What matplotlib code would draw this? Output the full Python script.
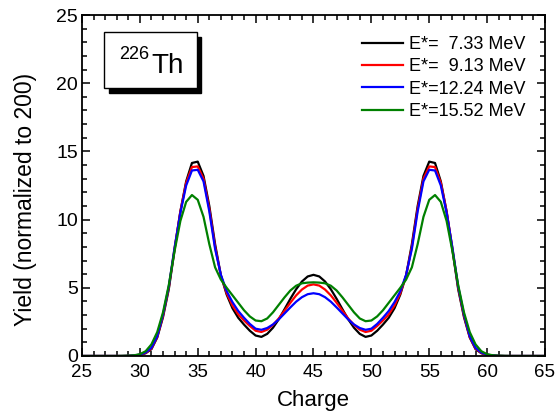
import numpy as np
import matplotlib
matplotlib.use("Agg")
import matplotlib.pyplot as plt
from matplotlib.patches import Rectangle

plt.rcParams['font.family'] = ['Liberation Sans', 'DejaVu Sans']

charge = np.arange(25.0, 65.01, 0.5)

y_733 = [0, 0, 0, 0, 0, 0, 0, 0, 0.01, 0.03,
         0.08, 0.2, 0.5, 1.35, 2.85, 4.9, 7.8, 10.6, 12.8, 14.15,
         14.25, 13.2, 11.0, 8.2, 5.9, 4.5, 3.5, 2.8, 2.3, 1.85,
         1.5, 1.4, 1.62, 2.07, 2.69, 3.43, 4.19, 4.89, 5.46, 5.83,
         5.95, 5.83, 5.46, 4.89, 4.19, 3.43, 2.69, 2.07, 1.62, 1.4,
         1.5, 1.85, 2.3, 2.8, 3.5, 4.5, 5.9, 8.2, 11.0, 13.2,
         14.25, 14.15, 12.8, 10.6, 7.8, 4.9, 2.85, 1.35, 0.5, 0.2,
         0.08, 0.03, 0.01, 0, 0, 0, 0, 0, 0, 0, 0]

y_913 = [0, 0, 0, 0, 0, 0, 0, 0, 0.01, 0.04,
         0.09, 0.22, 0.55, 1.4, 2.95, 5.0, 7.9, 10.6, 12.7, 13.85,
         13.9, 13.0, 10.8, 8.0, 5.9, 4.6, 3.7, 3.05, 2.6, 2.2,
         1.85, 1.76, 1.93, 2.28, 2.75, 3.32, 3.9, 4.44, 4.87, 5.16,
         5.25, 5.16, 4.87, 4.44, 3.9, 3.32, 2.75, 2.28, 1.93, 1.76,
         1.85, 2.2, 2.6, 3.05, 3.7, 4.6, 5.9, 8.0, 10.8, 13.0,
         13.9, 13.85, 12.7, 10.6, 7.9, 5.0, 2.95, 1.4, 0.55, 0.22,
         0.09, 0.04, 0.01, 0, 0, 0, 0, 0, 0, 0, 0]

y_1224 = [0, 0, 0, 0, 0, 0, 0, 0, 0.01, 0.04,
          0.1, 0.25, 0.6, 1.45, 3.05, 5.1, 7.95, 10.5, 12.5, 13.6,
          13.65, 12.8, 10.6, 7.85, 5.95, 4.75, 3.95, 3.3, 2.8, 2.35,
          2.0, 1.92, 2.05, 2.31, 2.68, 3.12, 3.56, 3.98, 4.31, 4.53,
          4.6, 4.53, 4.31, 3.98, 3.56, 3.12, 2.68, 2.31, 2.05, 1.92,
          2.0, 2.35, 2.8, 3.3, 3.95, 4.75, 5.95, 7.85, 10.6, 12.8,
          13.65, 13.6, 12.5, 10.5, 7.95, 5.1, 3.05, 1.45, 0.6, 0.25,
          0.1, 0.04, 0.01, 0, 0, 0, 0, 0, 0, 0, 0]

y_1552 = [0, 0, 0, 0, 0, 0, 0, 0.01, 0.02, 0.05,
          0.13, 0.35, 0.85, 1.75, 3.2, 5.2, 7.7, 9.9, 11.3, 11.8,
          11.45, 10.2, 8.2, 6.5, 5.6, 5.0, 4.45, 3.9, 3.35, 2.9,
          2.6, 2.55, 2.75, 3.2, 3.75, 4.3, 4.8, 5.15, 5.33, 5.38,
          5.4, 5.38, 5.33, 5.15, 4.8, 4.3, 3.75, 3.2, 2.75, 2.55,
          2.6, 2.9, 3.35, 3.9, 4.45, 5.0, 5.6, 6.5, 8.2, 10.2,
          11.45, 11.8, 11.3, 9.9, 7.7, 5.2, 3.2, 1.75, 0.85, 0.35,
          0.13, 0.05, 0.02, 0.01, 0, 0, 0, 0, 0, 0, 0]

labels = ["E*=  7.33 MeV", "E*=  9.13 MeV", "E*=12.24 MeV", "E*=15.52 MeV"]
colors = ["#000000", "#ff0000", "#0000ff", "#008000"]
series = [y_733, y_913, y_1224, y_1552]

fig = plt.figure(figsize=(5.6, 4.19), dpi=100)
ax = fig.add_axes([0.1464, 0.1504, 0.8268, 0.8138])

for ys, c, lab in zip(series, colors, labels):
    ax.plot(charge, ys, color=c, lw=1.6, label=lab)

ax.set_xlim(25, 65)
ax.set_ylim(0, 25)
ax.set_xticks(np.arange(25, 66, 5))
ax.set_yticks(np.arange(0, 26, 5))
ax.set_xticks(np.arange(25, 66, 1), minor=True)
ax.set_yticks(np.arange(0, 26, 1), minor=True)
ax.tick_params(which='both', direction='in', top=True, right=True, width=1.1)
ax.tick_params(which='major', length=6)
ax.tick_params(which='minor', length=3.5)
ax.tick_params(axis='x', which='major', labelsize=13.5, pad=6)
ax.tick_params(axis='y', which='major', labelsize=14, pad=3)
for s in ax.spines.values():
    s.set_linewidth(1.3)

ax.set_xlabel("Charge", fontsize=16, labelpad=6)
ax.set_ylabel("Yield (normalized to 200)", fontsize=16.5)
ax.yaxis.set_label_coords(-0.097, 0.459)

leg = ax.legend(loc='upper right', frameon=False, fontsize=13, handlelength=2.3,
                handletextpad=0.3, labelspacing=0.3, borderaxespad=0.3,
                bbox_to_anchor=(0.985, 0.976))

# shadowed label box
shadow = Rectangle((0.0575, 0.77), 0.2005, 0.166, transform=ax.transAxes,
                   facecolor='black', edgecolor='black', zorder=5)
box = Rectangle((0.0475, 0.785), 0.2005, 0.166, transform=ax.transAxes,
                facecolor='white', edgecolor='black', lw=1.0, zorder=6)
ax.add_patch(shadow)
ax.add_patch(box)
ax.text(0.149, 0.830, 'Th', transform=ax.transAxes, ha='left',
        va='baseline', fontsize=20, zorder=7)
ax.text(0.145, 0.870, '226', transform=ax.transAxes, ha='right',
        va='baseline', fontsize=13, zorder=7)

fig.savefig("out.png", dpi=100)
